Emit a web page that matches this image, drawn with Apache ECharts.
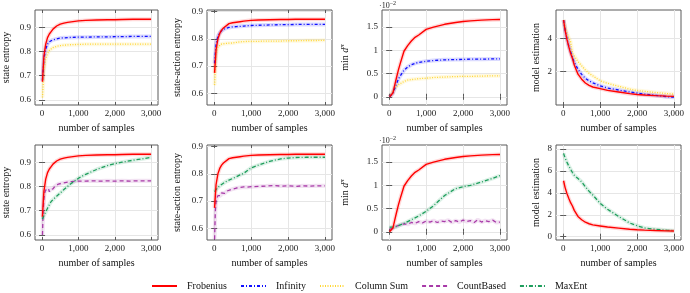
<!DOCTYPE html>
<html><head><meta charset="utf-8">
<script src="https://cdn.jsdelivr.net/npm/echarts@6/dist/echarts.min.js"></script>
<style>html,body{margin:0;padding:0;background:#fff}#c{width:690px;height:293px}</style>
</head><body><div id="c"></div>
<script>
// ---- data ----
const xs = [10, 50, 100, 150, 200, 250, 300, 400, 500, 600, 700, 800, 1000, 1200, 1500, 1800, 2000, 2200, 2500, 2800, 3000];
const xsDense = [10, 30, 50, 75, 100, 125, 150, 175, 200, 225, 250, 275, 300, 350, 400, 450, 500, 600, 700, 800, 900, 1000, 1200, 1400, 1600, 1800, 2000, 2200, 2400, 2600, 2800, 3000];
const xsNoisy = [10, 100, 200, 300, 400, 500, 600, 700, 800, 900, 1000, 1100, 1200, 1300, 1400, 1500, 1600, 1700, 1800, 1900, 2000, 2100, 2200, 2300, 2400, 2500, 2600, 2700, 2800, 2900, 3000];
const xTicks = [0, 1000, 2000, 3000];

// state entropy
const frobState = [0.675, 0.78, 0.83, 0.857, 0.872, 0.882, 0.892, 0.905, 0.913, 0.917, 0.92, 0.922, 0.926, 0.928, 0.93, 0.931, 0.931, 0.932, 0.933, 0.933, 0.933];
const infState = [0.68, 0.77, 0.81, 0.83, 0.84, 0.845, 0.848, 0.852, 0.855, 0.856, 0.857, 0.858, 0.859, 0.859, 0.86, 0.86, 0.861, 0.861, 0.862, 0.862, 0.862];
const colState = [0.61, 0.72, 0.77, 0.79, 0.805, 0.812, 0.816, 0.821, 0.824, 0.826, 0.827, 0.828, 0.829, 0.83, 0.83, 0.83, 0.83, 0.83, 0.83, 0.83, 0.83];
const countState = [0.6, 0.7, 0.75, 0.775, 0.785, 0.79, 0.78, 0.792, 0.778, 0.788, 0.783, 0.795, 0.79, 0.8, 0.805, 0.81, 0.812, 0.815, 0.818, 0.82, 0.821, 0.822, 0.822, 0.823, 0.822, 0.823, 0.822, 0.823, 0.822, 0.823, 0.823, 0.823];
const maxentState = [0.665, 0.68, 0.695, 0.71, 0.725, 0.738, 0.745, 0.76, 0.773, 0.787, 0.8, 0.812, 0.834, 0.85, 0.87, 0.886, 0.894, 0.9, 0.908, 0.915, 0.92];

// state-action entropy
const frobSA = [0.675, 0.76, 0.8, 0.82, 0.832, 0.84, 0.845, 0.856, 0.859, 0.861, 0.863, 0.865, 0.868, 0.869, 0.87, 0.871, 0.871, 0.872, 0.872, 0.872, 0.872];
const infSA = [0.71, 0.78, 0.81, 0.822, 0.83, 0.835, 0.838, 0.842, 0.844, 0.845, 0.846, 0.847, 0.849, 0.85, 0.851, 0.852, 0.852, 0.853, 0.853, 0.853, 0.853];
const colSA = [0.63, 0.74, 0.77, 0.777, 0.781, 0.782, 0.783, 0.784, 0.785, 0.787, 0.789, 0.79, 0.791, 0.791, 0.792, 0.792, 0.793, 0.793, 0.794, 0.794, 0.795];
const countSA = [0.56, 0.66, 0.7, 0.712, 0.72, 0.715, 0.726, 0.72, 0.73, 0.724, 0.733, 0.728, 0.735, 0.737, 0.74, 0.742, 0.745, 0.748, 0.75, 0.752, 0.751, 0.753, 0.754, 0.755, 0.757, 0.755, 0.756, 0.754, 0.756, 0.755, 0.756, 0.756];
const maxentSA = [0.735, 0.742, 0.75, 0.756, 0.761, 0.766, 0.77, 0.777, 0.783, 0.789, 0.796, 0.802, 0.822, 0.832, 0.846, 0.855, 0.858, 0.86, 0.861, 0.861, 0.861];

// min d^pi (x 10^-2)
const frobMin = [0, 0, 0.08, 0.25, 0.42, 0.58, 0.72, 0.98, 1.1, 1.2, 1.28, 1.33, 1.45, 1.5, 1.56, 1.6, 1.62, 1.635, 1.65, 1.66, 1.665];
const infMin = [0, 0.02, 0.08, 0.18, 0.28, 0.38, 0.45, 0.57, 0.64, 0.69, 0.72, 0.74, 0.765, 0.78, 0.795, 0.8, 0.805, 0.81, 0.81, 0.815, 0.815];
const colMin = [0, 0.05, 0.12, 0.18, 0.22, 0.26, 0.29, 0.33, 0.36, 0.37, 0.38, 0.39, 0.4, 0.415, 0.425, 0.435, 0.44, 0.44, 0.445, 0.45, 0.45];
const countMin = [0.05, 0.08, 0.12, 0.15, 0.17, 0.16, 0.2, 0.18, 0.22, 0.19, 0.23, 0.21, 0.24, 0.2, 0.23, 0.22, 0.25, 0.2, 0.24, 0.21, 0.25, 0.22, 0.24, 0.2, 0.26, 0.21, 0.24, 0.22, 0.25, 0.2, 0.21];
const maxentMin = [0.1, 0.1, 0.1, 0.1, 0.11, 0.13, 0.15, 0.18, 0.22, 0.26, 0.3, 0.34, 0.44, 0.56, 0.78, 0.93, 0.97, 1.0, 1.07, 1.15, 1.21];

// model estimation
const frobModel = [5.1, 4.5, 3.95, 3.5, 3.1, 2.8, 2.4, 1.85, 1.55, 1.32, 1.18, 1.08, 0.98, 0.88, 0.78, 0.68, 0.63, 0.6, 0.56, 0.53, 0.52];
const infModel = [5.1, 4.55, 4.0, 3.55, 3.2, 2.85, 2.55, 2.15, 1.84, 1.6, 1.45, 1.33, 1.15, 1.02, 0.9, 0.78, 0.72, 0.65, 0.58, 0.5, 0.47];
const colModel = [5.1, 4.7, 4.35, 4.05, 3.8, 3.1, 2.95, 2.6, 2.35, 2.1, 1.9, 1.75, 1.45, 1.3, 1.12, 0.95, 0.87, 0.82, 0.75, 0.69, 0.65];
const maxentModel = [7.6, 7.2, 6.8, 6.45, 6.15, 5.85, 5.6, 5.3, 5.0, 4.55, 4.15, 3.8, 3.05, 2.5, 1.85, 1.25, 1.0, 0.8, 0.68, 0.6, 0.55];

const legendNames = ['Frobenius', 'Infinity', 'Column Sum', 'CountBased', 'MaxEnt'];

// ---- styles ----
const FONT = 'Liberation Serif';
const styles = {
  'Frobenius': {color: '#ff0000', type: 'solid', width: 1.4},
  'Infinity': {color: '#1010ff', type: [3, 2, 1, 2], width: 1.3},
  'Column Sum': {color: '#ffd633', type: [1, 1.5], width: 1.3},
  'CountBased': {color: '#a83aa8', type: [4, 3], width: 1.3},
  'MaxEnt': {color: '#1e9e5c', type: [4, 2, 1, 2], width: 1.3}
};

const panels = [
  {left: 33, top: 10, name: 'state entropy', yr: [0.579, 0.971], yt: [0.6, 0.7, 0.8, 0.9], fmt: v => v.toFixed(1), gap: 24,
   lines: [['Column Sum', xs, colState], ['Infinity', xs, infState], ['Frobenius', xs, frobState]]},
  {left: 207, top: 10, name: 'state-action entropy', yr: [0.557, 0.906], yt: [0.6, 0.7, 0.8, 0.9], fmt: v => v.toFixed(1), gap: 25,
   lines: [['Column Sum', xs, colSA], ['Infinity', xs, infSA], ['Frobenius', xs, frobSA]]},
  {left: 382, top: 10, name: 'mind', yr: [-0.177, 1.868], yt: [0, 0.5, 1, 1.5], fmt: v => String(v), gap: 30, exp: true,
   lines: [['Column Sum', xs, colMin], ['Infinity', xs, infMin], ['Frobenius', xs, frobMin]]},
  {left: 556, top: 10, name: 'model estimation', yr: [0, 5.7], yt: [2, 4], fmt: v => String(v), gap: 15,
   lines: [['Column Sum', xs, colModel], ['Infinity', xs, infModel], ['Frobenius', xs, frobModel]]},
  {left: 33, top: 145, name: 'state entropy', yr: [0.579, 0.971], yt: [0.6, 0.7, 0.8, 0.9], fmt: v => v.toFixed(1), gap: 24,
   lines: [['CountBased', xsDense, countState], ['MaxEnt', xs, maxentState], ['Frobenius', xs, frobState]]},
  {left: 207, top: 145, name: 'state-action entropy', yr: [0.557, 0.906], yt: [0.6, 0.7, 0.8, 0.9], fmt: v => v.toFixed(1), gap: 25,
   lines: [['CountBased', xsDense, countSA], ['MaxEnt', xs, maxentSA], ['Frobenius', xs, frobSA]]},
  {left: 382, top: 145, name: 'mind', yr: [-0.177, 1.868], yt: [0, 0.5, 1, 1.5], fmt: v => String(v), gap: 30, exp: true,
   lines: [['CountBased', xsNoisy, countMin], ['MaxEnt', xs, maxentMin], ['Frobenius', xs, frobMin]]},
  {left: 556, top: 145, name: 'model estimation', yr: [-0.3, 8.36], yt: [0, 2, 4, 6, 8], fmt: v => String(v), gap: 15,
   lines: [['MaxEnt', xs, maxentModel], ['Frobenius', xs, frobModel]]}
];

const grids = [], xAxes = [], yAxes = [], series = [], graphics = [];
const W = 125, H = 95;
const tickStyle = {color: '#5a5a5a'};
panels.forEach((p, i) => {
  grids.push({left: p.left, top: p.top, width: W, height: H, show: true, borderColor: '#5a5a5a', borderWidth: 1, backgroundColor: 'transparent'});
  const xi = xAxes.length, yi = yAxes.length;
  xAxes.push({
    gridIndex: i, type: 'value', min: -195, max: 3190, position: 'bottom',
    axisLine: {show: false},
    axisTick: {show: true, inside: true, length: 3, customValues: xTicks, lineStyle: tickStyle},
    axisLabel: {customValues: xTicks, formatter: v => v.toLocaleString('en-US'), fontFamily: FONT, fontSize: 9, color: '#222', margin: 4},
    splitLine: {show: true, lineStyle: {color: '#e6e6e6', width: 1}},
    name: 'number of samples', nameLocation: 'middle', nameGap: 18,
    nameTextStyle: {fontFamily: FONT, fontSize: 10, color: '#111'}
  });
  xAxes.push({
    gridIndex: i, type: 'value', min: -195, max: 3190, position: 'top',
    axisLine: {show: false},
    axisTick: {show: true, inside: true, length: 3, customValues: xTicks, lineStyle: tickStyle},
    axisLabel: {show: false}, splitLine: {show: false}
  });
  const yName = p.name === 'mind' ? '{n|min }{d|d}{p|π}' : p.name;
  yAxes.push({
    gridIndex: i, type: 'value', min: p.yr[0], max: p.yr[1], position: 'left',
    axisLine: {show: false},
    axisTick: {show: true, inside: true, length: 3, customValues: p.yt, lineStyle: tickStyle},
    axisLabel: {customValues: p.yt, formatter: p.fmt, fontFamily: FONT, fontSize: 9, color: '#222', margin: 4},
    splitLine: {show: true, lineStyle: {color: '#e6e6e6', width: 1}},
    name: yName, nameLocation: 'middle', nameGap: p.gap, nameRotate: 90,
    nameTextStyle: {fontFamily: FONT, fontSize: 10, color: '#111',
      rich: {n: {fontFamily: FONT, fontSize: 10, color: '#111'}, d: {fontFamily: FONT, fontSize: 10, fontStyle: 'italic', color: '#111'},
             p: {fontFamily: FONT, fontSize: 7, fontStyle: 'italic', color: '#111', padding: [0, 0, 6, 0]}}}
  });
  yAxes.push({
    gridIndex: i, type: 'value', min: p.yr[0], max: p.yr[1], position: 'right',
    axisLine: {show: false},
    axisTick: {show: true, inside: true, length: 3, customValues: p.yt, lineStyle: tickStyle},
    axisLabel: {show: false}, splitLine: {show: false}
  });
  if (p.exp) {
    graphics.push({type: 'text', left: p.left - 3, top: p.top - 10,
      style: {text: '{a|·10}{b|−2}', rich: {a: {fontFamily: FONT, fontSize: 8, fill: '#222'}, b: {fontFamily: FONT, fontSize: 6, fill: '#222', padding: [0, 0, 5, 0]}}}});
  }
  p.lines.forEach(([nm, xv, yv]) => {
    const st = styles[nm];
    const data = xv.map((x, k) => [x, yv[k]]);
    series.push({name: nm + ' band', type: 'line', xAxisIndex: xi, yAxisIndex: yi, data, symbol: 'none', silent: true,
      lineStyle: {color: st.color, width: 4, opacity: 0.15}, z: 1});
    series.push({name: nm, type: 'line', xAxisIndex: xi, yAxisIndex: yi, data, symbol: 'none',
      lineStyle: {color: st.color, type: st.type, width: st.width}, itemStyle: {color: st.color}, z: 2});
  });
});

const chart = echarts.init(document.getElementById('c'), null, {renderer: 'canvas'});
chart.setOption({
  animation: false,
  backgroundColor: '#fff',
  grid: grids, xAxis: xAxes, yAxis: yAxes, series,
  graphic: graphics,
  legend: {data: legendNames, left: 146, top: 276, itemWidth: 25, itemHeight: 8, itemGap: 13,
    itemStyle: {opacity: 0},
    textStyle: {fontFamily: FONT, fontSize: 10, color: '#111', padding: [0, 0, 0, 5]}}
});
</script></body></html>
